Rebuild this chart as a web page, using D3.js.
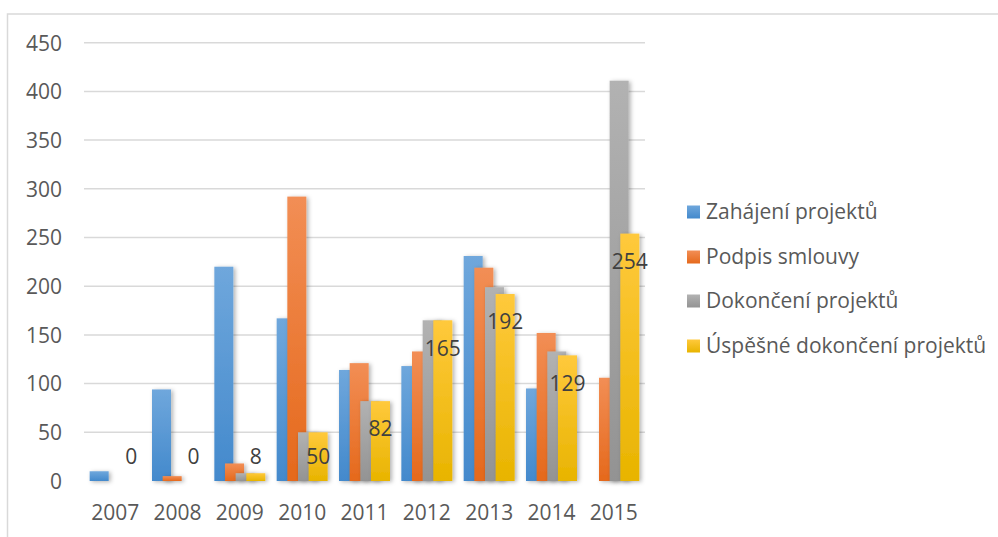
<!DOCTYPE html>
<html><head><meta charset="utf-8">
<script src="https://cdn.jsdelivr.net/npm/d3@7"></script>
<style>html,body{margin:0;padding:0;background:#fff;}svg{display:block;}</style>
</head><body>
<svg id="c" width="998" height="537"></svg>
<script>
const years = ["2007","2008","2009","2010","2011","2012","2013","2014","2015"];
const seriesNames = ["Zahájení projektů","Podpis smlouvy","Dokončení projektů","Úspěšné dokončení projektů"];
const zahajeni   = [10, 94, 220, 167, 114, 118, 231, 95, 0];
const podpis     = [0, 5, 18, 292, 121, 133, 219, 152, 106];
const dokonceni  = [0, 0, 8, 50, 82, 165, 199, 133, 411];
const uspesne    = [0, 0, 8, 50, 82, 165, 192, 129, 254];
const yTicks = [0, 50, 100, 150, 200, 250, 300, 350, 400, 450];
const seriesValues = [zahajeni, podpis, dokonceni, uspesne];
const colorsTop = ["#6fa7dc", "#f28e55", "#b2b2b2", "#ffc93c"];
const colorsBot = ["#4389cc", "#e5691c", "#939393", "#e8b400"];

const svg = d3.select("#c");
const FONT = "'Open Sans', 'Liberation Sans', sans-serif";
const FS = 21;
const defs = svg.append("defs");
colorsTop.forEach((c,i)=>{
  const g = defs.append("linearGradient").attr("id","g"+i).attr("x1",0).attr("y1",0).attr("x2",0).attr("y2",1);
  g.append("stop").attr("offset","0%").attr("stop-color",c);
  g.append("stop").attr("offset","100%").attr("stop-color",colorsBot[i]);
});
const f = defs.append("filter").attr("id","sh").attr("x","-30%").attr("y","-10%").attr("width","170%").attr("height","130%");
f.append("feDropShadow").attr("dx",2).attr("dy",1).attr("stdDeviation",2).attr("flood-color","#000").attr("flood-opacity",0.3);

// outer border
svg.append("rect").attr("x",7.5).attr("y",14).attr("width",1010).attr("height",540)
  .attr("fill","none").attr("stroke","#d9d9d9").attr("stroke-width",1.5);

const x = d3.scaleBand().domain(years).range([84,645]).padding(0);
const y = d3.scaleLinear().domain([0,450]).range([481,42.7]);

// gridlines
svg.append("g").selectAll("line").data(yTicks.filter(d=>d>0)).join("line")
  .attr("x1",84).attr("x2",645).attr("y1",d=>y(d)).attr("y2",d=>y(d))
  .attr("stroke","#d9d9d9").attr("stroke-width",1.5);

// y axis labels
const yAxis = d3.axisLeft(y).tickValues(yTicks).tickSize(0).tickPadding(0);
const ya = svg.append("g").attr("transform","translate(62,0)").call(yAxis);
ya.select(".domain").remove();
ya.selectAll("text").attr("font-family",FONT).attr("font-size",FS).attr("fill","#595959").attr("dy","0.35em");

// baseline
svg.append("line").attr("x1",84).attr("x2",645).attr("y1",y(0)+0.5).attr("y2",y(0)+0.5)
  .attr("stroke","#d0d0d0").attr("stroke-width",2.5).attr("filter","url(#sh)");

// bars
const bw = x.bandwidth();
const barW = bw*0.305;
const step = bw*0.171;
const groupW = 3*step + barW;
const off = (bw - groupW)/2;
seriesValues.forEach((vals,si)=>{
  svg.append("g").attr("filter","url(#sh)").selectAll("rect").data(vals.map((v,i)=>({v,year:years[i]}))).join("rect")
    .attr("x",d=>x(d.year)+off+si*step)
    .attr("width",barW)
    .attr("y",d=>y(d.v))
    .attr("height",d=>y(0)-y(d.v))
    .attr("fill","url(#g"+si+")");
});

// data labels for last series
svg.append("g").selectAll("text").data(uspesne.map((v,i)=>({v,year:years[i]}))).join("text")
  .attr("x",d=>x(d.year)+off+3*step+barW/2)
  .attr("y",d=>Math.min(y(d.v)+28, y(0)-24))
  .attr("dy","0.35em").attr("text-anchor","middle")
  .attr("font-family",FONT).attr("font-size",FS).attr("fill","#404040")
  .text(d=>d.v);

// x axis labels
const xAxis = d3.axisBottom(x).tickSize(0).tickPadding(0);
const xa = svg.append("g").attr("transform","translate(0,513)").call(xAxis);
xa.select(".domain").remove();
xa.selectAll("text").attr("font-family",FONT).attr("font-size",FS).attr("fill","#595959").attr("dy","0.35em");

// legend
const lg = svg.append("g");
const legY = [212, 257, 301, 346];
seriesNames.forEach((n,i)=>{
  lg.append("rect").attr("x",687).attr("y",legY[i]-6.5).attr("width",13).attr("height",13).attr("fill","url(#g"+i+")");
  lg.append("text").attr("x",706).attr("y",legY[i]).attr("dy","0.35em")
    .attr("font-family",FONT).attr("font-size",FS).attr("fill","#595959").text(n);
});
</script>
</body></html>
